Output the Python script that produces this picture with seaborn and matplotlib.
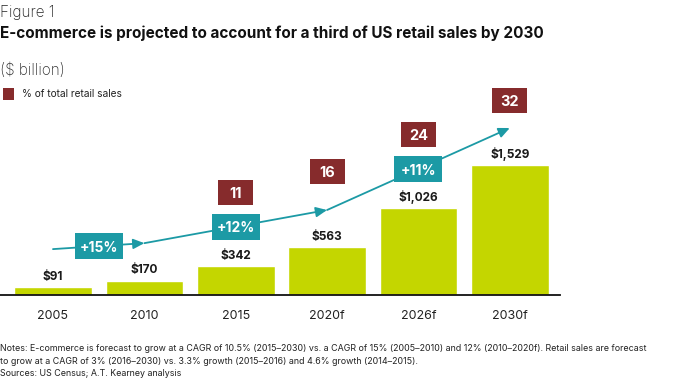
import matplotlib

matplotlib.use("Agg")
import matplotlib.pyplot as plt
import matplotlib.transforms as mtransforms
import pandas as pd
import seaborn as sns
from matplotlib.patches import Rectangle

# data
years = ["2005", "2010", "2015", "2020f", "2026f", "2030f"]
sales = [91, 170, 342, 563, 1026, 1529]          # $ billion
share_years = ["2015", "2020f", "2026f", "2030f"]
share_pct = [11, 16, 24, 32]                     # % of total retail sales
growth_labels = ["+15%", "+12%", "+11%"]
trend_x = [0, 1, 3, 5]                           # trend arrow path (category index)
trend_y = [540, 610, 1000, 1965]                 # trend arrow path (value units)

# layout
growth_x = [0.5, 2, 4]
share_box_y = [1212, 1459, 1894, 2294]

LIME = "#C4D600"
TEAL = "#1C9AA5"
BROWN = "#862B2C"
W, H = 680, 378

sns.set_theme(style="white")
plt.rcParams["font.family"] = ["Inter", "DejaVu Sans"]

fig = plt.figure(figsize=(W / 100, H / 100), dpi=100)
ax = fig.add_axes([0, 1 - 295 / H, 560 / W, 215 / H])

df = pd.DataFrame({"year": years, "sales": sales})
sns.barplot(data=df, x="year", y="sales", color=LIME, width=0.85,
            saturation=1, ax=ax, zorder=2)

ax.set_xlim(-0.58, 5.55)
ax.set_ylim(0, 2530)
ax.set_xlabel("")
ax.set_ylabel("")
ax.set_yticks([])
ax.tick_params(axis="x", length=0, pad=11, labelsize=9, labelcolor="#222222")
for s in ["top", "right", "left"]:
    ax.spines[s].set_visible(False)
ax.spines["bottom"].set_color("#111111")
ax.spines["bottom"].set_linewidth(1.3)

# value labels
for i, v in enumerate(sales):
    ax.annotate(f"${v:,}", (i, v), xytext=(0, 3), textcoords="offset points",
                ha="center", va="bottom", fontsize=8.5, fontweight="bold",
                color="#1a1a1a")


def label_box(x, y, text, color, w, h, size):
    # fixed-size (pixel) box centred on a data point
    trans = mtransforms.ScaledTranslation(x, y, ax.transData)
    ax.add_artist(Rectangle((-w / 2, -h / 2), w, h, transform=trans,
                            fc=color, ec="none", zorder=4, clip_on=False))
    ax.text(x, y, text, ha="center", va="center_baseline", fontsize=size,
            fontweight="bold", color="white", zorder=5)


# trend arrows
for k in range(len(trend_x) - 1):
    ax.annotate("", xy=(trend_x[k + 1], trend_y[k + 1]),
                xytext=(trend_x[k], trend_y[k]),
                arrowprops=dict(arrowstyle="-|>,head_length=0.55,head_width=0.25",
                                color=TEAL, lw=1.3, shrinkA=0, shrinkB=0),
                zorder=3)

# growth boxes on the trend line
line = pd.Series(trend_y, index=trend_x, dtype=float)
for gx, lab in zip(growth_x, growth_labels):
    gy = line.reindex(sorted(set(trend_x) | {gx})).interpolate(method="index")[gx]
    label_box(gx, gy, lab, TEAL, 48, 26, 10)

# share-of-retail boxes
for yr, pct, by in zip(share_years, share_pct, share_box_y):
    label_box(years.index(yr), by, str(pct), BROWN, 35, 25, 10.5)

# header texts
fig.text(0, 1 - 13 / H, "Figure 1", fontsize=11, fontweight="light",
         color="#222222", va="center")
fig.text(0, 1 - 33 / H,
         "E-commerce is projected to account for a third of US retail sales by 2030",
         fontsize=11, fontweight="bold", color="#111111", va="center")
fig.text(0, 1 - 70 / H, "($ billion)", fontsize=11, fontweight="light",
         color="#333333", va="center")
fig.add_artist(Rectangle((3 / W, 1 - 100 / H), 11 / W, 12 / H,
                         transform=fig.transFigure, fc=BROWN, ec="none"))
fig.text(22 / W, 1 - 94 / H, "% of total retail sales", fontsize=7.3,
         color="#222222", va="center")

# notes
notes = ("Notes: E-commerce is forecast to grow at a CAGR of 10.5% (2015–2030) vs. a CAGR of 15% "
         "(2005–2010) and 12% (2010–2020f). Retail sales are forecast\n"
         "to grow at a CAGR of 3% (2016–2030) vs. 3.3% growth (2015–2016) and 4.6% growth (2014–2015).")
fig.text(0, 1 - 355 / H, notes, fontsize=6.4, color="#222222", va="center",
         linespacing=1.45)
fig.text(0, 1 - 373 / H, "Sources: US Census; A.T. Kearney analysis",
         fontsize=6.4, color="#222222", va="center")

fig.savefig("out.png", dpi=100)
